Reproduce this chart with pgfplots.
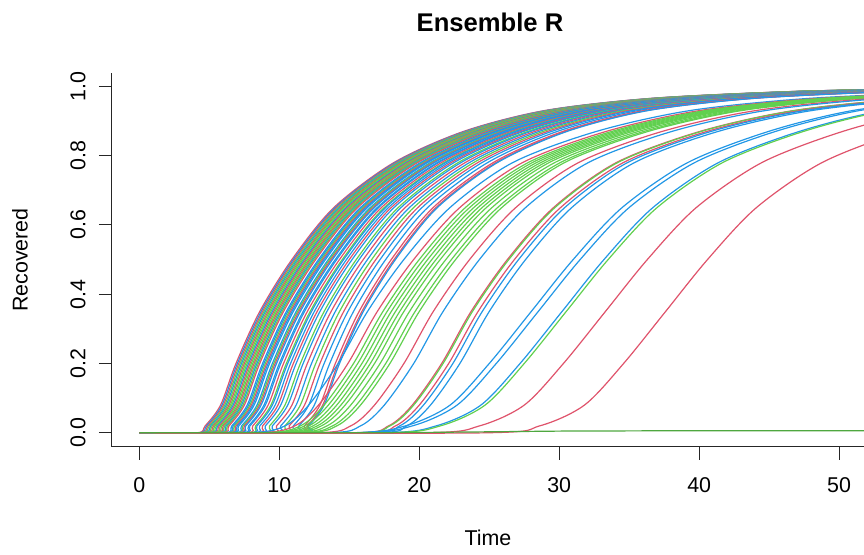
\documentclass[border=0pt]{standalone}
\usepackage{pgfplots}
\pgfplotsset{compat=1.18}
\usepackage{pgfplotstable}
\usepackage{fontspec}
\setmainfont{Liberation Sans}
\definecolor{rr}{HTML}{DF536B}
\definecolor{gg}{HTML}{61D04F}
\definecolor{bb}{HTML}{2297E6}
\pgfplotsset{
  cR/.style={rr, line width=0.6pt, smooth, tension=0.5},
  cG/.style={gg, line width=0.6pt, smooth, tension=0.5},
  cB/.style={bb, line width=0.6pt, smooth, tension=0.5},
}
% main pack
\pgfplotstableread{
y c1 c2 c3 c4 c5 c6 c7 c8 c9 c10 c11 c12 c13 c14 c15 c16 c17 c18 c19 c20 c21 c22 c23 c24 c25 c26 c27 c28 c29 c30 c31 c32 c33 c34 c35 c36 c37 c38 c39 c40 c41 c42 c43 c44 c45 c46 c47
0 0 0 0 0 0 0 0 0 0 0 0 0 0 0 0 0 0 0 0 0 0 0 0 0 0 0 0 0 0 0 0 0 0 0 0 0 0 0 0 0 0 0 0 0 0 0 0
0 4.1 4.2 4.3 4.4 4.5 4.6 4.7 4.8 4.9 5.0 5.1 5.2 5.3 5.4 5.5 5.6 5.7 5.8 6.0 6.1 6.2 6.3 6.4 6.5 6.7 6.8 6.9 7.0 7.2 7.3 7.5 7.7 7.8 8.0 8.2 8.4 8.7 8.9 9.2 9.5 9.8 10.1 10.4 10.8 11.2 11.4 11.5
0.02 4.7 4.8 4.9 5.0 5.1 5.2 5.3 5.4 5.5 5.6 5.7 5.8 5.9 6.0 6.1 6.2 6.3 6.4 6.6 6.7 6.8 6.9 7.0 7.1 7.3 7.4 7.5 7.6 7.8 7.9 8.1 8.3 8.4 8.6 8.8 9.0 9.3 9.5 9.8 10.1 10.4 10.7 11.0 11.4 11.8 12.0 12.1
0.08 5.8 5.9 6.0 6.1 6.2 6.3 6.4 6.5 6.6 6.7 6.8 6.9 7.0 7.1 7.2 7.3 7.4 7.5 7.7 7.8 7.9 8.0 8.1 8.2 8.4 8.5 8.6 8.7 8.9 9.0 9.2 9.4 9.5 9.7 9.9 10.1 10.4 10.6 10.9 11.2 11.5 11.8 12.1 12.5 12.9 13.1 13.2
0.2 6.9 7.0 7.1 7.2 7.3 7.4 7.5 7.6 7.7 7.8 7.9 8.0 8.1 8.2 8.3 8.4 8.5 8.6 8.8 8.9 9.0 9.1 9.2 9.3 9.5 9.6 9.7 9.8 10.0 10.1 10.3 10.5 10.6 10.8 11.0 11.2 11.5 11.7 12.0 12.3 12.6 12.9 13.2 13.6 14.0 14.2 14.3
0.35 8.6 8.7 8.8 8.9 9.0 9.1 9.2 9.3 9.4 9.5 9.6 9.7 9.8 9.9 10.0 10.1 10.2 10.3 10.5 10.6 10.7 10.8 10.9 11.0 11.2 11.3 11.4 11.5 11.7 11.8 12.0 12.2 12.3 12.5 12.7 12.9 13.2 13.4 13.7 14.0 14.3 14.6 14.9 15.3 15.7 15.9 16.0
0.5 10.9 11.0 11.1 11.2 11.3 11.4 11.5 11.6 11.7 11.8 11.9 12.0 12.1 12.2 12.3 12.4 12.5 12.6 12.8 12.9 13.0 13.1 13.2 13.3 13.5 13.6 13.7 13.8 14.0 14.1 14.3 14.5 14.6 14.8 15.0 15.2 15.5 15.7 16.0 16.3 16.6 16.9 17.2 17.6 18.0 18.2 18.3
0.65 13.9 14.0 14.1 14.2 14.3 14.4 14.5 14.6 14.7 14.8 14.9 15.0 15.1 15.2 15.3 15.4 15.5 15.6 15.8 15.9 16.0 16.1 16.2 16.3 16.5 16.6 16.7 16.8 17.0 17.1 17.3 17.5 17.6 17.8 18.0 18.2 18.5 18.7 19.0 19.3 19.6 19.9 20.2 20.6 21.0 21.2 21.3
0.78 18.2 18.3 18.4 18.5 18.6 18.7 18.8 18.9 19.0 19.1 19.2 19.3 19.4 19.5 19.6 19.7 19.8 19.9 20.1 20.2 20.3 20.4 20.5 20.6 20.8 20.9 21.0 21.1 21.3 21.4 21.6 21.8 21.9 22.1 22.3 22.5 22.8 23.0 23.3 23.6 23.9 24.2 24.5 24.9 25.3 25.5 25.6
0.87 23.2 23.3 23.4 23.5 23.6 23.7 23.8 23.9 24.0 24.1 24.2 24.3 24.4 24.5 24.6 24.7 24.8 24.9 25.1 25.2 25.3 25.4 25.5 25.6 25.8 25.9 26.0 26.1 26.3 26.4 26.6 26.8 26.9 27.1 27.3 27.5 27.8 28.0 28.3 28.6 28.9 29.2 29.5 29.9 30.3 30.5 30.6
0.93 29.0 29.1 29.2 29.3 29.4 29.5 29.6 29.7 29.8 29.9 30.0 30.1 30.2 30.3 30.4 30.5 30.6 30.7 30.9 31.0 31.1 31.2 31.3 31.4 31.6 31.7 31.8 31.9 32.1 32.2 32.4 32.6 32.7 32.9 33.1 33.3 33.6 33.8 34.1 34.4 34.7 35.0 35.3 35.7 36.1 36.3 36.4
0.965 36.6 36.7 36.8 36.9 37.0 37.1 37.2 37.3 37.4 37.5 37.6 37.7 37.8 37.9 38.0 38.1 38.2 38.3 38.5 38.6 38.7 38.8 38.9 39.0 39.2 39.3 39.4 39.5 39.7 39.8 40.0 40.2 40.3 40.5 40.7 40.9 41.2 41.4 41.7 42.0 42.3 42.6 42.9 43.3 43.7 43.9 44.0
0.985 46.9 47.0 47.1 47.2 47.3 47.4 47.5 47.6 47.7 47.8 47.9 48.0 48.1 48.2 48.3 48.4 48.5 48.6 48.8 48.9 49.0 49.1 49.2 49.3 49.5 49.6 49.7 49.8 50.0 50.1 50.3 50.5 50.6 50.8 51.0 51.2 51.5 51.7 52.0 52.3 52.6 52.9 53.2 53.6 54.0 54.2 54.3
0.992 55.9 56.0 56.1 56.2 56.3 56.4 56.5 56.6 56.7 56.8 56.9 57.0 57.1 57.2 57.3 57.4 57.5 57.6 57.8 57.9 58.0 58.1 58.2 58.3 58.5 58.6 58.7 58.8 59.0 59.1 59.3 59.5 59.6 59.8 60.0 60.2 60.5 60.7 61.0 61.3 61.6 61.9 62.2 62.6 63.0 63.2 63.3
}\tA
% middle group
\pgfplotstableread{
y m1 m2 m3 m4 m5 m6 m7 m8 m9 m10 m11 m12 m13 m14 m15 m16 m17 m18
0 0 0 0 0 0 0 0 0 0 0 0 0 0 0 0 0 0 0
0 7.9 8.6 9.0 9.3 9.6 9.9 10.2 10.5 10.9 11.3 11.6 12.6 13.3 15.3 15.4 15.8 16.1 16.6
0.02 10.4 11.1 11.5 11.8 12.1 12.4 12.7 13.0 13.4 13.8 14.1 15.1 15.8 17.8 17.9 18.3 18.6 19.1
0.08 12.1 12.8 13.2 13.5 13.8 14.1 14.4 14.7 15.1 15.5 15.8 16.8 17.5 19.5 19.6 20.0 20.3 20.8
0.2 14.2 14.9 15.3 15.6 15.9 16.2 16.5 16.8 17.2 17.6 17.9 18.9 19.6 21.6 21.7 22.1 22.4 22.9
0.35 16.3 17.0 17.4 17.7 18.0 18.3 18.6 18.9 19.3 19.7 20.0 21.0 21.7 23.7 23.8 24.2 24.5 25.0
0.5 18.9 19.6 20.0 20.3 20.6 20.9 21.2 21.5 21.9 22.3 22.6 23.6 24.3 26.3 26.4 26.8 27.1 27.6
0.65 22.2 22.9 23.3 23.6 23.9 24.2 24.5 24.8 25.2 25.6 25.9 26.9 27.6 29.6 29.7 30.1 30.4 30.9
0.78 26.7 27.4 27.8 28.1 28.4 28.7 29.0 29.3 29.7 30.1 30.4 31.4 32.1 34.1 34.2 34.6 34.9 35.4
0.87 32.7 33.4 33.8 34.1 34.4 34.7 35.0 35.3 35.7 36.1 36.4 37.4 38.1 40.1 40.2 40.6 40.9 41.4
0.93 39.4 40.1 40.5 40.8 41.1 41.4 41.7 42.0 42.4 42.8 43.1 44.1 44.8 46.8 46.9 47.3 47.6 48.1
0.965 47.9 48.6 49.0 49.3 49.6 49.9 50.2 50.5 50.9 51.3 51.6 52.6 53.3 55.3 55.4 55.8 56.1 56.6
0.985 58.9 59.6 60.0 60.3 60.6 60.9 61.2 61.5 61.9 62.3 62.6 63.6 64.3 66.3 66.4 66.8 67.1 67.6
}\tM
% late group
\pgfplotstableread{
y k1 k2 k3 k4 k5 k6
0 0 0 0 0 0 0
0 15.0 15.5 17.2 17.5 20.3 24.6
0.02 19.0 19.5 21.2 21.5 24.3 28.6
0.08 22.2 22.7 24.4 24.7 27.5 31.8
0.2 25.0 25.5 27.2 27.5 30.3 34.6
0.35 28.0 28.5 30.2 30.5 33.3 37.6
0.5 31.0 31.5 33.2 33.5 36.3 40.6
0.65 34.5 35.0 36.7 37.0 39.8 44.1
0.78 39.2 39.7 41.4 41.7 44.5 48.8
0.87 45.0 45.5 47.2 47.5 50.3 54.6
0.93 51.0 51.5 53.2 53.5 56.3 60.6
0.965 58.5 59.0 60.7 61.0 63.8 68.1
}\tB
\begin{document}
\begin{tikzpicture}
\path[use as bounding box] (0,0) rectangle (432pt,277pt);
\begin{axis}[
  at={(55.85pt,53.65pt)}, anchor=south west,
  scale only axis, width=376.15pt, height=186.85pt,
  xmin=-1.98, xmax=51.78, ymin=-0.04, ymax=1.038,
  axis lines=left, axis line style={-, line width=0.6pt, black!85},
  xtick={0,10,20,30,40,50}, ytick={0,0.2,0.4,0.6,0.8,1},
  yticklabels={0.0,0.2,0.4,0.6,0.8,1.0},
  tick align=outside, major tick length=6.4pt,
  tick style={line width=0.6pt, black!85},
  /pgf/number format/assume math mode=true,
  xticklabel style={font=\fontsize{10.7}{12}\selectfont, anchor=center, yshift=-13pt},
  yticklabel style={font=\fontsize{10.7}{12}\selectfont, rotate=90, anchor=center},
  yticklabel shift=10.5pt,
  clip=true,
]
\addplot[cR] table[x=c1,y=y]{\tA};
\addplot[cB] table[x=c2,y=y]{\tA};
\addplot[cR] table[x=c3,y=y]{\tA};
\addplot[cG] table[x=c4,y=y]{\tA};
\addplot[cB] table[x=c5,y=y]{\tA};
\addplot[cG] table[x=c6,y=y]{\tA};
\addplot[cR] table[x=c7,y=y]{\tA};
\addplot[cG] table[x=c8,y=y]{\tA};
\addplot[cG] table[x=c9,y=y]{\tA};
\addplot[cB] table[x=c10,y=y]{\tA};
\addplot[cR] table[x=c11,y=y]{\tA};
\addplot[cG] table[x=c12,y=y]{\tA};
\addplot[cG] table[x=c13,y=y]{\tA};
\addplot[cR] table[x=c14,y=y]{\tA};
\addplot[cG] table[x=c15,y=y]{\tA};
\addplot[cB] table[x=c16,y=y]{\tA};
\addplot[cG] table[x=c17,y=y]{\tA};
\addplot[cR] table[x=c18,y=y]{\tA};
\addplot[cB] table[x=c19,y=y]{\tA};
\addplot[cB] table[x=c20,y=y]{\tA};
\addplot[cG] table[x=c21,y=y]{\tA};
\addplot[cR] table[x=c22,y=y]{\tA};
\addplot[cB] table[x=c23,y=y]{\tA};
\addplot[cB] table[x=c24,y=y]{\tA};
\addplot[cB] table[x=c25,y=y]{\tA};
\addplot[cG] table[x=c26,y=y]{\tA};
\addplot[cR] table[x=c27,y=y]{\tA};
\addplot[cB] table[x=c28,y=y]{\tA};
\addplot[cB] table[x=c29,y=y]{\tA};
\addplot[cB] table[x=c30,y=y]{\tA};
\addplot[cR] table[x=c31,y=y]{\tA};
\addplot[cG] table[x=c32,y=y]{\tA};
\addplot[cB] table[x=c33,y=y]{\tA};
\addplot[cB] table[x=c34,y=y]{\tA};
\addplot[cR] table[x=c35,y=y]{\tA};
\addplot[cB] table[x=c36,y=y]{\tA};
\addplot[cG] table[x=c37,y=y]{\tA};
\addplot[cB] table[x=c38,y=y]{\tA};
\addplot[cR] table[x=c39,y=y]{\tA};
\addplot[cB] table[x=c40,y=y]{\tA};
\addplot[cG] table[x=c41,y=y]{\tA};
\addplot[cR] table[x=c42,y=y]{\tA};
\addplot[cB] table[x=c43,y=y]{\tA};
\addplot[cB] table[x=c44,y=y]{\tA};
\addplot[cR] table[x=c45,y=y]{\tA};
\addplot[cR] table[x=c46,y=y]{\tA};
\addplot[cB] table[x=c47,y=y]{\tA};
\addplot[cB] table[x=m1,y=y]{\tM};
\addplot[cR] table[x=m2,y=y]{\tM};
\addplot[cG] table[x=m3,y=y]{\tM};
\addplot[cG] table[x=m4,y=y]{\tM};
\addplot[cG] table[x=m5,y=y]{\tM};
\addplot[cG] table[x=m6,y=y]{\tM};
\addplot[cG] table[x=m7,y=y]{\tM};
\addplot[cG] table[x=m8,y=y]{\tM};
\addplot[cG] table[x=m9,y=y]{\tM};
\addplot[cG] table[x=m10,y=y]{\tM};
\addplot[cG] table[x=m11,y=y]{\tM};
\addplot[cR] table[x=m12,y=y]{\tM};
\addplot[cB] table[x=m13,y=y]{\tM};
\addplot[cR] table[x=m14,y=y]{\tM};
\addplot[cG] table[x=m15,y=y]{\tM};
\addplot[cR] table[x=m16,y=y]{\tM};
\addplot[cB] table[x=m17,y=y]{\tM};
\addplot[cB] table[x=m18,y=y]{\tM};
\addplot[cB] table[x=k1,y=y]{\tB};
\addplot[cB] table[x=k2,y=y]{\tB};
\addplot[cB] table[x=k3,y=y]{\tB};
\addplot[cG] table[x=k4,y=y]{\tB};
\addplot[cR] table[x=k5,y=y]{\tB};
\addplot[cR] table[x=k6,y=y]{\tB};
\addplot[gg!80!black, line width=0.6pt] coordinates {(0,0) (16,0) (20,0.001) (25,0.003) (30,0.005) (38,0.006) (52,0.006)};
\end{axis}
\node[font=\bfseries\fontsize{12.8}{15}\selectfont] at (245pt,266pt) {Ensemble R};
\node[font=\fontsize{10.7}{12}\selectfont] at (244pt,8pt) {Time};
\node[font=\fontsize{10.7}{12}\selectfont, rotate=90] at (10pt,147pt) {Recovered};
\end{tikzpicture}
\end{document}
